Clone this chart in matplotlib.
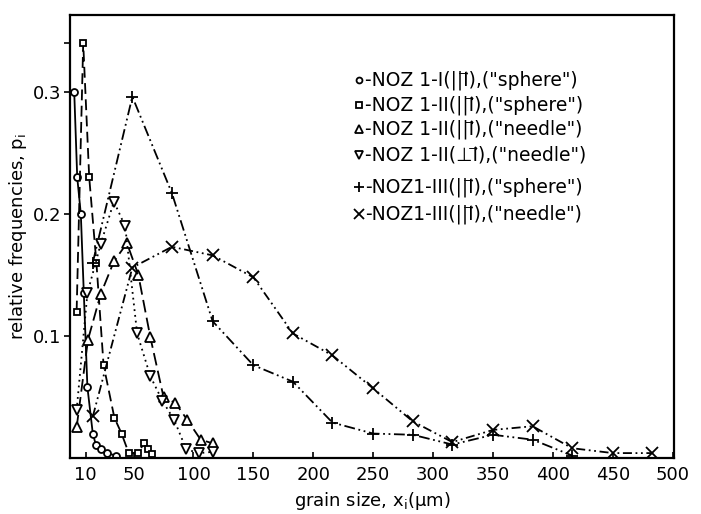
import matplotlib
matplotlib.use("Agg")
import matplotlib.pyplot as plt

# ---- data ----
circle_x = [0.5, 3, 6, 8.5, 11.5, 16, 18.5, 22.5, 28, 35]
circle_y = [0.30, 0.23, 0.20, 0.135, 0.058, 0.02, 0.011, 0.007, 0.004, 0.002]

square_x = [2.5, 8, 13, 19, 25, 34, 40, 46, 54, 58.5, 62, 65]
square_y = [0.12, 0.34, 0.23, 0.16, 0.076, 0.033, 0.02, 0.004, 0.004, 0.012, 0.007, 0.003]

tri_up_x = [2.5, 12, 22.5, 33.6, 44.5, 54, 64, 75, 85, 95, 106, 116]
tri_up_y = [0.025, 0.097, 0.134, 0.161, 0.176, 0.15, 0.099, 0.05, 0.045, 0.031, 0.015, 0.012]

tri_dn_x = [2.5, 11.5, 22.5, 33.6, 43, 53, 64, 74, 84, 94, 105, 116]
tri_dn_y = [0.039, 0.135, 0.175, 0.21, 0.19, 0.102, 0.067, 0.047, 0.031, 0.007, 0.004, 0.005]

plus_x = [16, 49, 82, 116, 150, 183, 216, 250, 283, 316, 350, 383, 416]
plus_y = [0.16, 0.296, 0.217, 0.112, 0.076, 0.0625, 0.029, 0.02, 0.019, 0.011, 0.019, 0.015, 0.002]

cross_x = [16, 49, 82, 116, 150, 183, 216, 250, 283, 316, 350, 383, 416, 450, 483]
cross_y = [0.034, 0.156, 0.173, 0.166, 0.148, 0.102, 0.084, 0.057, 0.03, 0.013, 0.023, 0.026, 0.008, 0.004, 0.004]

vecI = 'I\u20d7'
labels = [
    '-NOZ 1-I(||' + vecI + '),("sphere")',
    '-NOZ 1-II(||' + vecI + '),("sphere")',
    '-NOZ 1-II(||' + vecI + '),("needle")',
    '-NOZ 1-II(\u22a5' + vecI + '),("needle")',
    '-NOZ1-III(||' + vecI + '),("sphere")',
    '-NOZ1-III(||' + vecI + '),("needle")',
]

x_ticks = [10, 50, 100, 150, 200, 250, 300, 350, 400, 450, 500]
y_ticks = [0.1, 0.2, 0.3]

plt.rcParams['font.family'] = ['DejaVu Sans']
plt.rcParams['mathtext.fontset'] = 'dejavusans'

fig = plt.figure(figsize=(7.01, 5.14), dpi=100)
ax = fig.add_axes([0.0999, 0.109, 0.8616, 0.862])

mk = dict(color='black', markerfacecolor='white', markeredgecolor='black',
          markeredgewidth=1.3, linewidth=1.3)

series = [
    (circle_x, circle_y, 'o', '-', 5),
    (square_x, square_y, 's', (0, (6, 3)), 5),
    (tri_up_x, tri_up_y, '^', (0, (7, 3)), 6.5),
    (tri_dn_x, tri_dn_y, 'v', (0, (1, 2.2)), 6.5),
    (plus_x, plus_y, '+', (0, (6, 2, 1, 2, 1, 2)), 9),
    (cross_x, cross_y, 'x', (0, (5, 2, 1, 2, 1, 2)), 8),
]
for xs, ys, m, ls, ms in series:
    ax.plot(xs, ys, marker=m, linestyle=ls, markersize=ms, **mk)

ax.set_xlim(-3, 501)
ax.set_ylim(0, 0.363)

ax.set_xticks(x_ticks)
ax.set_xticklabels([str(t) for t in x_ticks])
ax.set_yticks(y_ticks + [0.34])
ax.set_yticklabels(['0.1', '0.2', '0.3', ''])
ax.tick_params(axis='x', direction='in', length=4, width=1.2, labelsize=13, pad=6)
ax.tick_params(axis='y', direction='out', length=4, width=1.2, labelsize=13, pad=2)
for s in ax.spines.values():
    s.set_linewidth(1.6)

ax.set_xlabel(r'grain size, x$_\mathrm{i}$($\mathrm{\mu}$m)', fontsize=13, labelpad=4)
ax.set_ylabel(r'relative frequencies, p$_\mathrm{i}$', fontsize=13, labelpad=3)

# hand-placed key, as in the reference
row_y = [0.853, 0.797, 0.743, 0.684, 0.612, 0.551]
for (_, _, m, _, ms), lab, yy in zip(series, labels, row_y):
    ax.plot([0.478], [yy], transform=ax.transAxes, clip_on=False, marker=m,
            linestyle='none', markersize=ms * 0.85, markerfacecolor='white',
            markeredgecolor='black', markeredgewidth=1.3)
    ax.text(0.488, yy, lab, transform=ax.transAxes, fontsize=13.5,
            va='center', ha='left')

fig.savefig('out.png', dpi=100)
